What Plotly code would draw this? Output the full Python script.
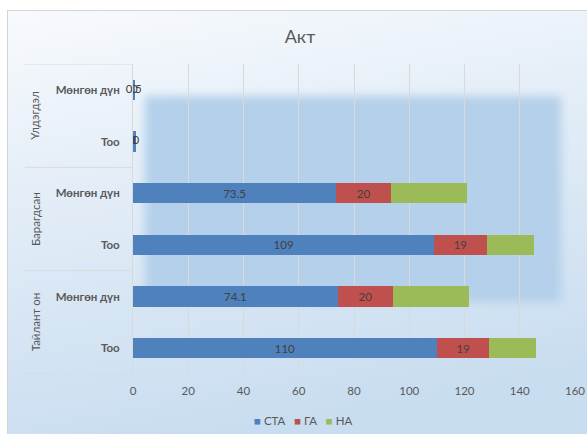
import base64
import plotly.graph_objects as go

# ---- data ----
groups = ["Тайлант он", "Тайлант он", "Барагдсан", "Барагдсан", "Үлдэгдэл", "Үлдэгдэл"]
subcats = ["Тоо", "Мөнгөн дүн", "Тоо", "Мөнгөн дүн", "Тоо", "Мөнгөн дүн"]
sta = [110, 74.1, 109, 73.5, 1, 0.5]
ga = [19, 20, 19, 20, 0, 0]
na = [17, 27.7, 17, 27.5, 0, 0]
series_names = ["СТА", "ГА", "НА"]
x_ticks = [0, 20, 40, 60, 80, 100, 120, 140, 160]
title_text = "Акт"

# ---- layout constants ----
W, H = 587, 434
ML, MR, MT, MB = 133, 12, 64, 60
PW, PH = W - ML - MR, H - MT - MB
FONT = "Lato, 'Open Sans', sans-serif"
GREY = "#595959"
LBL = "#404040"
colors = ["#4f81bd", "#c0504d", "#9bbb59"]

cats = [g + " | " + s for g, s in zip(groups, subcats)]

fig = go.Figure()

def texts(vals):
    return [(f"{v:g}" if v >= 5 else "") for v in vals]

for name, vals, col, show in zip(series_names, [sta, ga, na], colors, [True, True, False]):
    fig.add_trace(go.Bar(
        y=cats, x=vals, name=name, orientation="h",
        marker=dict(color=col, line=dict(width=0)),
        text=texts(vals) if show else None,
        textposition="inside", insidetextanchor="middle",
        textfont=dict(family=FONT, size=11.5, color=LBL),
        constraintext="none", showlegend=False, hoverinfo="skip",
    ))

# labels for very small bars (drawn centered like the reference)
sx, sy, st = [], [], []
for c, a, b in zip(cats, sta, ga):
    if a < 5:
        sx += [a / 2, a + b / 2]
        sy += [c, c]
        st += [f"{a:g}", f"{b:g}"]
fig.add_trace(go.Scatter(
    x=sx, y=sy, text=st, mode="text", cliponaxis=False,
    textfont=dict(family=FONT, size=11.5, color=LBL),
    showlegend=False, hoverinfo="skip",
))

# ---- background (chart area gradient + soft panel) ----
svg = f"""<svg xmlns='http://www.w3.org/2000/svg' width='{W}' height='{H}'>
<defs>
<linearGradient id='g' x1='0' y1='0' x2='0.25' y2='1'>
<stop offset='0' stop-color='#f8fafd'/>
<stop offset='0.35' stop-color='#e6eff8'/>
<stop offset='1' stop-color='#c9ddf0'/>
</linearGradient>
<filter id='b' x='-10%' y='-10%' width='120%' height='120%'><feGaussianBlur stdDeviation='5'/></filter>
</defs>
<rect width='{W}' height='{H}' fill='#ffffff'/>
<rect x='7.5' y='10.5' width='{W}' height='{H}' fill='url(#g)' stroke='#d4d4d4'/>
<rect x='145' y='96' width='416' height='206' fill='#b4d0ea' filter='url(#b)'/>
</svg>"""
src = "data:image/svg+xml;base64," + base64.b64encode(svg.encode("utf-8")).decode()
fig.add_layout_image(dict(
    source=src, xref="paper", yref="paper",
    x=-ML / PW, y=1 + MT / PH, sizex=W / PW, sizey=H / PH,
    xanchor="left", yanchor="top", sizing="stretch", layer="below",
))

# ---- group labels & dividers ----
gx = (35 - ML) / PW
left = (25 - ML) / PW
uniq = []
for g in groups:
    if g not in uniq:
        uniq.append(g)
for g in uniq:
    idx = [i for i, gg in enumerate(groups) if gg == g]
    fig.add_annotation(
        x=gx, xref="paper", y=sum(idx) / len(idx), yref="y",
        xanchor="center", yanchor="middle",
        text=g, textangle=-90, showarrow=False,
        font=dict(family=FONT, size=11.5, color=GREY),
    )
bounds = [-0.5] + [i + 0.5 for i in range(len(groups) - 1) if groups[i] != groups[i + 1]] + [len(groups) - 0.5]
for b in bounds:
    fig.add_shape(type="line", xref="paper", yref="y", x0=left, x1=0, y0=b, y1=b,
                  line=dict(color="#d9d9d9", width=1))

# ---- legend (as coloured squares + text) ----
leg = "   ".join(f"<span style='color:{c}'>■</span> {n}" for n, c in zip(series_names, colors))
fig.add_annotation(
    x=(303 - ML) / PW, xref="paper", y=(MT + PH - 420) / PH, yref="paper",
    text=leg, showarrow=False, xanchor="center", yanchor="middle",
    font=dict(family=FONT, size=11.5, color=GREY),
)

fig.update_layout(
    width=W, height=H, barmode="stack", bargap=0.61,
    margin=dict(l=ML, r=MR, t=MT, b=MB, autoexpand=False),
    paper_bgcolor="#ffffff", plot_bgcolor="rgba(0,0,0,0)",
    showlegend=False,
    title=dict(text=title_text, x=300 / W, xref="container", xanchor="center",
               y=1 - 37 / H, yref="container", yanchor="middle",
               font=dict(family=FONT, size=18, color=GREY)),
    xaxis=dict(range=[0, 160], tickvals=x_ticks, showgrid=True, gridcolor="#d9d9d9",
               gridwidth=1, zeroline=False, showline=False, ticks="", automargin=False,
               ticklabelstandoff=8, tickfont=dict(family=FONT, size=11.5, color=GREY)),
    yaxis=dict(type="category", categoryorder="array", categoryarray=cats,
               tickvals=cats, ticktext=[f"<b>{s}</b>" for s in subcats], automargin=False,
               showgrid=False, zeroline=False, showline=True, linecolor="#d9d9d9",
               ticks="", ticklabelstandoff=10, range=[-0.5, len(cats) - 0.5],
               tickfont=dict(family=FONT, size=11.5, color=GREY)),
    font=dict(family=FONT),
)

fig.write_html("out.html")
